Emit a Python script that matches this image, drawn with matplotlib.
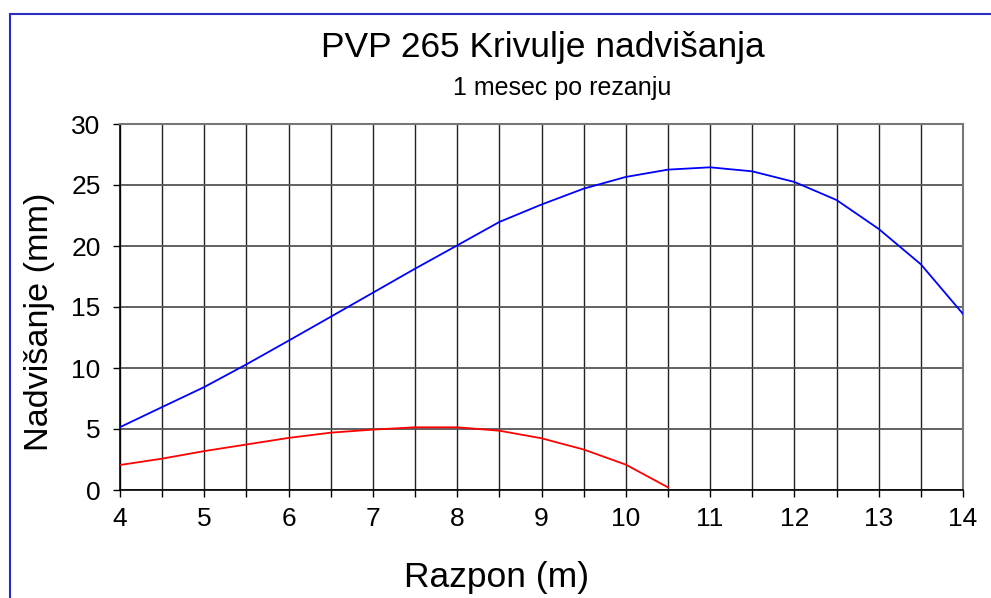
import matplotlib
matplotlib.use("Agg")
import matplotlib.pyplot as plt
from matplotlib.patches import Rectangle
from matplotlib.ticker import MultipleLocator

plt.rcParams['font.family'] = ['Liberation Sans', 'DejaVu Sans']

# razpon (m) in nadvisanje (mm)
razpon = [4, 4.5, 5, 5.5, 6, 6.5, 7, 7.5, 8, 8.5, 9, 9.5, 10, 10.5,
          11, 11.5, 12, 12.5, 13, 13.5, 14]
nadvisanje_modra = [5.15, 6.8, 8.44, 10.3, 12.24, 14.2, 16.17, 18.14, 20.05, 21.97,
                    23.4, 24.7, 25.66, 26.26, 26.45, 26.12, 25.25, 23.77, 21.4, 18.5, 14.43]
razpon_rdeca = [4, 4.5, 5, 5.5, 6, 6.5, 7, 7.5, 8, 8.5, 9, 9.5, 10, 10.5]
nadvisanje_rdeca = [2.05, 2.57, 3.19, 3.73, 4.27, 4.7, 4.95, 5.14, 5.14, 4.86,
                    4.24, 3.32, 2.08, 0.22]

fig = plt.figure(figsize=(9.91, 5.98), dpi=100)
ax = fig.add_axes([120 / 991, 1 - 490 / 598, 843 / 991, 366 / 598])

ax.plot(razpon, nadvisanje_modra, color='#0000ff', lw=1.3, zorder=3)
ax.plot(razpon_rdeca, nadvisanje_rdeca, color='#ff0000', lw=1.3, zorder=3)

ax.set_xlim(4, 14)
ax.set_ylim(0, 30)
ax.xaxis.set_major_locator(MultipleLocator(1))
ax.xaxis.set_minor_locator(MultipleLocator(0.5))
ax.yaxis.set_major_locator(MultipleLocator(5))
ax.grid(which='both', axis='x', color='#222222', lw=1.0)
ax.grid(which='major', axis='y', color='#555555', lw=1.3)
ax.tick_params(axis='both', which='both', direction='out', length=5,
               labelsize=19, width=1, color='black')
ax.tick_params(axis='y', pad=9)
ax.tick_params(axis='x', pad=7)
for s in ['top', 'right']:
    ax.spines[s].set_color('#777777')
    ax.spines[s].set_linewidth(1.5)
for s in ['left', 'bottom']:
    ax.spines[s].set_color('black')
    ax.spines[s].set_linewidth(1.2)

fig.text(543 / 991, 1 - 47 / 598, 'PVP 265 Krivulje nadvišanja',
         ha='center', va='center', fontsize=25.5)
fig.text(562 / 991, 1 - 88 / 598, '1 mesec po rezanju',
         ha='center', va='center', fontsize=18)
fig.text(40 / 991, 1 - 322 / 598, 'Nadvišanje (mm)', rotation=90,
         ha='center', va='center', fontsize=24.7)
fig.text(497 / 991, 1 - 577 / 598, 'Razpon (m)',
         ha='center', va='center', fontsize=25.5)

# modri okvir
fig.patches.append(Rectangle((10 / 991, -0.1), 1.2, 1 - 14 / 598 + 0.1,
                             transform=fig.transFigure, fill=False,
                             edgecolor='#2b2bcc', lw=1.5))

fig.savefig('out.png', dpi=100)
